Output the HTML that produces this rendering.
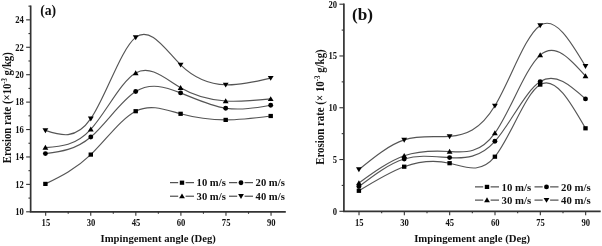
<!DOCTYPE html>
<html><head><meta charset="utf-8"><style>
html,body{margin:0;padding:0;background:#fff;}
svg{display:block;filter:grayscale(1);}
text{fill:#111;font-family:"Liberation Serif",serif;font-weight:bold;}
</style></head><body>
<svg width="602" height="246" viewBox="0 0 602 246">
<rect width="602" height="246" fill="#fff"/>
<path d="M45.40,183.90 C60.53,176.52 75.67,169.14 90.80,154.60 C105.77,140.22 120.73,118.82 135.70,111.20 C150.67,103.58 165.63,109.73 180.60,113.80 C195.63,117.89 210.67,119.89 225.70,119.90 C240.70,119.91 255.70,117.96 270.70,116.00" fill="none" stroke="#555" stroke-width="1.15"/>
<path d="M45.40,153.60 C60.53,151.73 75.67,149.86 90.80,137.00 C105.77,124.29 120.73,100.83 135.70,91.50 C150.67,82.17 165.63,86.97 180.60,92.90 C195.63,98.86 210.67,105.96 225.70,108.20 C240.70,110.43 255.70,107.82 270.70,105.20" fill="none" stroke="#555" stroke-width="1.15"/>
<path d="M45.40,147.60 C60.53,146.68 75.67,145.76 90.80,129.30 C105.77,113.02 120.73,81.53 135.70,73.00 C150.67,64.47 165.63,78.90 180.60,87.80 C195.63,96.74 210.67,100.08 225.70,101.00 C240.70,101.91 255.70,100.41 270.70,98.90" fill="none" stroke="#555" stroke-width="1.15"/>
<path d="M45.40,130.40 C60.53,135.48 75.67,140.55 90.80,118.70 C105.77,97.09 120.73,49.13 135.70,37.40 C150.67,25.67 165.63,50.17 180.60,64.80 C195.63,79.50 210.67,84.25 225.70,84.80 C240.70,85.35 255.70,81.73 270.70,78.10" fill="none" stroke="#555" stroke-width="1.15"/>
<rect x="43.20" y="181.80" width="4.40" height="4.20" fill="#000"/>
<rect x="88.60" y="152.50" width="4.40" height="4.20" fill="#000"/>
<rect x="133.50" y="109.10" width="4.40" height="4.20" fill="#000"/>
<rect x="178.40" y="111.70" width="4.40" height="4.20" fill="#000"/>
<rect x="223.50" y="117.80" width="4.40" height="4.20" fill="#000"/>
<rect x="268.50" y="113.90" width="4.40" height="4.20" fill="#000"/>
<circle cx="45.40" cy="153.60" r="2.45" fill="#000"/>
<circle cx="90.80" cy="137.00" r="2.45" fill="#000"/>
<circle cx="135.70" cy="91.50" r="2.45" fill="#000"/>
<circle cx="180.60" cy="92.90" r="2.45" fill="#000"/>
<circle cx="225.70" cy="108.20" r="2.45" fill="#000"/>
<circle cx="270.70" cy="105.20" r="2.45" fill="#000"/>
<path d="M45.40,144.85 L48.30,149.75 L42.50,149.75Z" fill="#000"/>
<path d="M90.80,126.55 L93.70,131.45 L87.90,131.45Z" fill="#000"/>
<path d="M135.70,70.25 L138.60,75.15 L132.80,75.15Z" fill="#000"/>
<path d="M180.60,85.05 L183.50,89.95 L177.70,89.95Z" fill="#000"/>
<path d="M225.70,98.25 L228.60,103.15 L222.80,103.15Z" fill="#000"/>
<path d="M270.70,96.15 L273.60,101.05 L267.80,101.05Z" fill="#000"/>
<path d="M45.40,133.15 L48.30,128.25 L42.50,128.25Z" fill="#000"/>
<path d="M90.80,121.45 L93.70,116.55 L87.90,116.55Z" fill="#000"/>
<path d="M135.70,40.15 L138.60,35.25 L132.80,35.25Z" fill="#000"/>
<path d="M180.60,67.55 L183.50,62.65 L177.70,62.65Z" fill="#000"/>
<path d="M225.70,87.55 L228.60,82.65 L222.80,82.65Z" fill="#000"/>
<path d="M270.70,80.85 L273.60,75.95 L267.80,75.95Z" fill="#000"/>
<path d="M30.65,5.4 V211.8 H285.8" fill="none" stroke="#333" stroke-width="1.7"/>
<path d="M26.15,211.80 H30.65" stroke="#333" stroke-width="1.1"/>
<path d="M26.15,184.38 H30.65" stroke="#333" stroke-width="1.1"/>
<path d="M26.15,156.96 H30.65" stroke="#333" stroke-width="1.1"/>
<path d="M26.15,129.54 H30.65" stroke="#333" stroke-width="1.1"/>
<path d="M26.15,102.12 H30.65" stroke="#333" stroke-width="1.1"/>
<path d="M26.15,74.70 H30.65" stroke="#333" stroke-width="1.1"/>
<path d="M26.15,47.28 H30.65" stroke="#333" stroke-width="1.1"/>
<path d="M26.15,19.86 H30.65" stroke="#333" stroke-width="1.1"/>
<path d="M28.45,198.09 H30.65" stroke="#333" stroke-width="1.1"/>
<path d="M28.45,170.67 H30.65" stroke="#333" stroke-width="1.1"/>
<path d="M28.45,143.25 H30.65" stroke="#333" stroke-width="1.1"/>
<path d="M28.45,115.83 H30.65" stroke="#333" stroke-width="1.1"/>
<path d="M28.45,88.41 H30.65" stroke="#333" stroke-width="1.1"/>
<path d="M28.45,60.99 H30.65" stroke="#333" stroke-width="1.1"/>
<path d="M28.45,33.57 H30.65" stroke="#333" stroke-width="1.1"/>
<path d="M28.45,6.15 H30.65" stroke="#333" stroke-width="1.1"/>
<text x="15.15" y="215.10" font-size="9.4" text-anchor="start" textLength="8.60" lengthAdjust="spacingAndGlyphs" >10</text>
<text x="15.15" y="187.68" font-size="9.4" text-anchor="start" textLength="8.60" lengthAdjust="spacingAndGlyphs" >12</text>
<text x="15.15" y="160.26" font-size="9.4" text-anchor="start" textLength="8.60" lengthAdjust="spacingAndGlyphs" >14</text>
<text x="15.15" y="132.84" font-size="9.4" text-anchor="start" textLength="8.60" lengthAdjust="spacingAndGlyphs" >16</text>
<text x="15.15" y="105.42" font-size="9.4" text-anchor="start" textLength="8.60" lengthAdjust="spacingAndGlyphs" >18</text>
<text x="15.15" y="78.00" font-size="9.4" text-anchor="start" textLength="8.60" lengthAdjust="spacingAndGlyphs" >20</text>
<text x="15.15" y="50.58" font-size="9.4" text-anchor="start" textLength="8.60" lengthAdjust="spacingAndGlyphs" >22</text>
<text x="15.15" y="23.16" font-size="9.4" text-anchor="start" textLength="8.60" lengthAdjust="spacingAndGlyphs" >24</text>
<path d="M45.67,211.8 V215.80" stroke="#333" stroke-width="1.1"/>
<text x="41.58" y="226.10" font-size="9.4" text-anchor="start" textLength="8.60" lengthAdjust="spacingAndGlyphs" >15</text>
<path d="M90.75,211.8 V215.80" stroke="#333" stroke-width="1.1"/>
<text x="86.65" y="226.10" font-size="9.4" text-anchor="start" textLength="8.60" lengthAdjust="spacingAndGlyphs" >30</text>
<path d="M135.82,211.8 V215.80" stroke="#333" stroke-width="1.1"/>
<text x="131.72" y="226.10" font-size="9.4" text-anchor="start" textLength="8.60" lengthAdjust="spacingAndGlyphs" >45</text>
<path d="M180.90,211.8 V215.80" stroke="#333" stroke-width="1.1"/>
<text x="176.80" y="226.10" font-size="9.4" text-anchor="start" textLength="8.60" lengthAdjust="spacingAndGlyphs" >60</text>
<path d="M225.97,211.8 V215.80" stroke="#333" stroke-width="1.1"/>
<text x="221.87" y="226.10" font-size="9.4" text-anchor="start" textLength="8.60" lengthAdjust="spacingAndGlyphs" >75</text>
<path d="M271.05,211.8 V215.80" stroke="#333" stroke-width="1.1"/>
<text x="266.95" y="226.10" font-size="9.4" text-anchor="start" textLength="8.60" lengthAdjust="spacingAndGlyphs" >90</text>
<path d="M68.21,211.8 V213.80" stroke="#333" stroke-width="1.1"/>
<path d="M113.29,211.8 V213.80" stroke="#333" stroke-width="1.1"/>
<path d="M158.36,211.8 V213.80" stroke="#333" stroke-width="1.1"/>
<path d="M203.44,211.8 V213.80" stroke="#333" stroke-width="1.1"/>
<path d="M248.51,211.8 V213.80" stroke="#333" stroke-width="1.1"/>
<path d="M170.00,182.70 h8.2 M185.60,182.70 h8.4" stroke="#2a2a2a" stroke-width="1.0"/>
<rect x="179.80" y="180.60" width="4.40" height="4.20" fill="#000"/>
<text x="196.60" y="186.40" font-size="10.2" text-anchor="start" textLength="29.20" lengthAdjust="spacingAndGlyphs" >10 m/s</text>
<path d="M229.00,182.70 h8.2 M244.60,182.70 h8.4" stroke="#2a2a2a" stroke-width="1.0"/>
<circle cx="241.00" cy="182.70" r="2.45" fill="#000"/>
<text x="255.60" y="186.40" font-size="10.2" text-anchor="start" textLength="29.20" lengthAdjust="spacingAndGlyphs" >20 m/s</text>
<path d="M170.00,196.20 h8.2 M185.60,196.20 h8.4" stroke="#2a2a2a" stroke-width="1.0"/>
<path d="M182.00,193.45 L184.90,198.35 L179.10,198.35Z" fill="#000"/>
<text x="196.60" y="199.90" font-size="10.2" text-anchor="start" textLength="29.20" lengthAdjust="spacingAndGlyphs" >30 m/s</text>
<path d="M229.00,196.20 h8.2 M244.60,196.20 h8.4" stroke="#2a2a2a" stroke-width="1.0"/>
<path d="M241.00,198.95 L243.90,194.05 L238.10,194.05Z" fill="#000"/>
<text x="255.60" y="199.90" font-size="10.2" text-anchor="start" textLength="29.20" lengthAdjust="spacingAndGlyphs" >40 m/s</text>
<path d="M358.90,190.80 C374.00,181.46 389.10,172.12 404.20,166.70 C419.33,161.27 434.47,159.78 449.60,163.20 C464.70,166.61 479.80,174.92 494.90,156.70 C510.00,138.48 525.10,93.75 540.20,84.60 C555.30,75.45 570.40,101.87 585.50,128.30" fill="none" stroke="#555" stroke-width="1.15"/>
<path d="M358.90,186.60 C374.00,175.11 389.10,163.61 404.20,159.00 C419.33,154.38 434.47,156.67 449.60,157.60 C464.70,158.52 479.80,158.08 494.90,141.30 C510.00,124.52 525.10,91.39 540.20,81.60 C555.30,71.81 570.40,85.35 585.50,98.90" fill="none" stroke="#555" stroke-width="1.15"/>
<path d="M358.90,183.00 C374.00,172.09 389.10,161.18 404.20,155.80 C419.33,150.41 434.47,150.57 449.60,151.50 C464.70,152.42 479.80,154.11 494.90,133.10 C510.00,112.09 525.10,68.40 540.20,55.10 C555.30,41.80 570.40,58.90 585.50,76.00" fill="none" stroke="#555" stroke-width="1.15"/>
<path d="M358.90,169.50 C374.00,157.17 389.10,144.83 404.20,139.90 C419.33,134.96 434.47,137.45 449.60,136.40 C464.70,135.36 479.80,130.79 494.90,105.80 C510.00,80.81 525.10,35.40 540.20,25.40 C555.30,15.40 570.40,40.80 585.50,66.20" fill="none" stroke="#555" stroke-width="1.15"/>
<rect x="356.70" y="188.70" width="4.40" height="4.20" fill="#000"/>
<rect x="402.00" y="164.60" width="4.40" height="4.20" fill="#000"/>
<rect x="447.40" y="161.10" width="4.40" height="4.20" fill="#000"/>
<rect x="492.70" y="154.60" width="4.40" height="4.20" fill="#000"/>
<rect x="538.00" y="82.50" width="4.40" height="4.20" fill="#000"/>
<rect x="583.30" y="126.20" width="4.40" height="4.20" fill="#000"/>
<circle cx="358.90" cy="186.60" r="2.45" fill="#000"/>
<circle cx="404.20" cy="159.00" r="2.45" fill="#000"/>
<circle cx="449.60" cy="157.60" r="2.45" fill="#000"/>
<circle cx="494.90" cy="141.30" r="2.45" fill="#000"/>
<circle cx="540.20" cy="81.60" r="2.45" fill="#000"/>
<circle cx="585.50" cy="98.90" r="2.45" fill="#000"/>
<path d="M358.90,180.25 L361.80,185.15 L356.00,185.15Z" fill="#000"/>
<path d="M404.20,153.05 L407.10,157.95 L401.30,157.95Z" fill="#000"/>
<path d="M449.60,148.75 L452.50,153.65 L446.70,153.65Z" fill="#000"/>
<path d="M494.90,130.35 L497.80,135.25 L492.00,135.25Z" fill="#000"/>
<path d="M540.20,52.35 L543.10,57.25 L537.30,57.25Z" fill="#000"/>
<path d="M585.50,73.25 L588.40,78.15 L582.60,78.15Z" fill="#000"/>
<path d="M358.90,172.25 L361.80,167.35 L356.00,167.35Z" fill="#000"/>
<path d="M404.20,142.65 L407.10,137.75 L401.30,137.75Z" fill="#000"/>
<path d="M449.60,139.15 L452.50,134.25 L446.70,134.25Z" fill="#000"/>
<path d="M494.90,108.55 L497.80,103.65 L492.00,103.65Z" fill="#000"/>
<path d="M540.20,28.15 L543.10,23.25 L537.30,23.25Z" fill="#000"/>
<path d="M585.50,68.95 L588.40,64.05 L582.60,64.05Z" fill="#000"/>
<path d="M343.9,3.4 V211.3 H600.7" fill="none" stroke="#333" stroke-width="1.7"/>
<path d="M339.40,211.30 H343.9" stroke="#333" stroke-width="1.1"/>
<path d="M339.40,159.53 H343.9" stroke="#333" stroke-width="1.1"/>
<path d="M339.40,107.75 H343.9" stroke="#333" stroke-width="1.1"/>
<path d="M339.40,55.97 H343.9" stroke="#333" stroke-width="1.1"/>
<path d="M339.40,4.20 H343.9" stroke="#333" stroke-width="1.1"/>
<path d="M341.70,185.41 H343.9" stroke="#333" stroke-width="1.1"/>
<path d="M341.70,133.64 H343.9" stroke="#333" stroke-width="1.1"/>
<path d="M341.70,81.86 H343.9" stroke="#333" stroke-width="1.1"/>
<path d="M341.70,30.09 H343.9" stroke="#333" stroke-width="1.1"/>
<text x="332.70" y="214.60" font-size="9.4" text-anchor="start" textLength="4.30" lengthAdjust="spacingAndGlyphs" >0</text>
<text x="332.70" y="162.83" font-size="9.4" text-anchor="start" textLength="4.30" lengthAdjust="spacingAndGlyphs" >5</text>
<text x="328.40" y="111.05" font-size="9.4" text-anchor="start" textLength="8.60" lengthAdjust="spacingAndGlyphs" >10</text>
<text x="328.40" y="59.27" font-size="9.4" text-anchor="start" textLength="8.60" lengthAdjust="spacingAndGlyphs" >15</text>
<text x="328.40" y="7.50" font-size="9.4" text-anchor="start" textLength="8.60" lengthAdjust="spacingAndGlyphs" >20</text>
<path d="M359.01,211.3 V215.30" stroke="#333" stroke-width="1.1"/>
<text x="354.91" y="225.60" font-size="9.4" text-anchor="start" textLength="8.60" lengthAdjust="spacingAndGlyphs" >15</text>
<path d="M404.34,211.3 V215.30" stroke="#333" stroke-width="1.1"/>
<text x="400.24" y="225.60" font-size="9.4" text-anchor="start" textLength="8.60" lengthAdjust="spacingAndGlyphs" >30</text>
<path d="M449.67,211.3 V215.30" stroke="#333" stroke-width="1.1"/>
<text x="445.57" y="225.60" font-size="9.4" text-anchor="start" textLength="8.60" lengthAdjust="spacingAndGlyphs" >45</text>
<path d="M495.00,211.3 V215.30" stroke="#333" stroke-width="1.1"/>
<text x="490.90" y="225.60" font-size="9.4" text-anchor="start" textLength="8.60" lengthAdjust="spacingAndGlyphs" >60</text>
<path d="M540.33,211.3 V215.30" stroke="#333" stroke-width="1.1"/>
<text x="536.23" y="225.60" font-size="9.4" text-anchor="start" textLength="8.60" lengthAdjust="spacingAndGlyphs" >75</text>
<path d="M585.66,211.3 V215.30" stroke="#333" stroke-width="1.1"/>
<text x="581.56" y="225.60" font-size="9.4" text-anchor="start" textLength="8.60" lengthAdjust="spacingAndGlyphs" >90</text>
<path d="M381.67,211.3 V213.30" stroke="#333" stroke-width="1.1"/>
<path d="M427.00,211.3 V213.30" stroke="#333" stroke-width="1.1"/>
<path d="M472.33,211.3 V213.30" stroke="#333" stroke-width="1.1"/>
<path d="M517.66,211.3 V213.30" stroke="#333" stroke-width="1.1"/>
<path d="M563.00,211.3 V213.30" stroke="#333" stroke-width="1.1"/>
<path d="M475.00,186.90 h8.2 M490.60,186.90 h8.4" stroke="#2a2a2a" stroke-width="1.0"/>
<rect x="484.80" y="184.80" width="4.40" height="4.20" fill="#000"/>
<text x="501.60" y="190.60" font-size="10.2" text-anchor="start" textLength="29.60" lengthAdjust="spacingAndGlyphs" >10 m/s</text>
<path d="M534.50,186.90 h8.2 M550.10,186.90 h8.4" stroke="#2a2a2a" stroke-width="1.0"/>
<circle cx="546.50" cy="186.90" r="2.45" fill="#000"/>
<text x="561.10" y="190.60" font-size="10.2" text-anchor="start" textLength="29.60" lengthAdjust="spacingAndGlyphs" >20 m/s</text>
<path d="M475.00,200.10 h8.2 M490.60,200.10 h8.4" stroke="#2a2a2a" stroke-width="1.0"/>
<path d="M487.00,197.35 L489.90,202.25 L484.10,202.25Z" fill="#000"/>
<text x="501.60" y="203.80" font-size="10.2" text-anchor="start" textLength="29.60" lengthAdjust="spacingAndGlyphs" >30 m/s</text>
<path d="M534.50,200.10 h8.2 M550.10,200.10 h8.4" stroke="#2a2a2a" stroke-width="1.0"/>
<path d="M546.50,202.85 L549.40,197.95 L543.60,197.95Z" fill="#000"/>
<text x="561.10" y="203.80" font-size="10.2" text-anchor="start" textLength="29.60" lengthAdjust="spacingAndGlyphs" >40 m/s</text>
<text x="40.20" y="15.20" font-size="15.2" text-anchor="start" textLength="16.00" lengthAdjust="spacingAndGlyphs" >(a)</text>
<text x="352.00" y="19.50" font-size="16.6" text-anchor="start" textLength="21.00" lengthAdjust="spacingAndGlyphs" >(b)</text>
<text transform="translate(11.0,163.2) rotate(-90)" font-size="12" textLength="111" lengthAdjust="spacingAndGlyphs">Erosion rate (×10<tspan dy="-4.2" font-size="7.5">-3</tspan><tspan dy="4.2"> g/kg)</tspan></text>
<text transform="translate(323.8,164.8) rotate(-90)" font-size="12" textLength="115.5" lengthAdjust="spacingAndGlyphs">Erosion rate (× 10<tspan dy="-4.2" font-size="7.5">-3</tspan><tspan dy="4.2"> g/kg)</tspan></text>
<text x="100.60" y="242.30" font-size="10.9" text-anchor="start" textLength="115.30" lengthAdjust="spacingAndGlyphs" >Impingement angle (Deg)</text>
<text x="414.20" y="242.20" font-size="10.9" text-anchor="start" textLength="116.00" lengthAdjust="spacingAndGlyphs" >Impingement angle (Deg)</text>
</svg>
</body></html>
